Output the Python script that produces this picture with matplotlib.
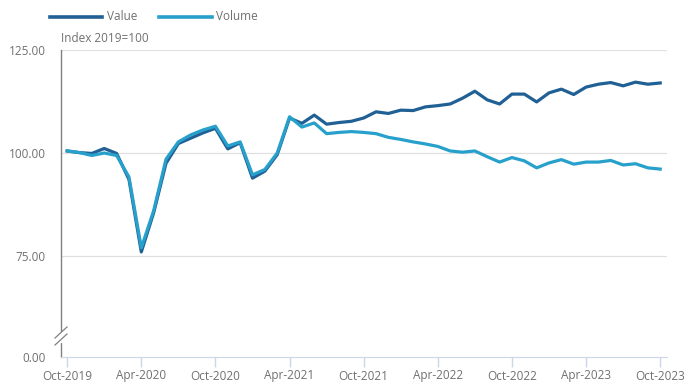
import matplotlib.pyplot as plt
from matplotlib.lines import Line2D

plt.rcParams['font.family'] = ['Open Sans', 'DejaVu Sans']

# monthly index, Oct-2019 .. Oct-2023 (2019=100)
value = [100.5, 100.1, 99.9, 101.1, 99.9, 93.6, 76.0, 85.5, 97.5,
         102.3, 103.6, 104.9, 106.0, 101.0, 102.5, 93.9, 95.6, 99.6,
         108.5, 107.2, 109.2, 107.0, 107.4, 107.7, 108.5, 110.0, 109.6,
         110.4, 110.3, 111.2, 111.5, 111.9, 113.3, 115.0, 112.9, 111.9,
         114.3, 114.3, 112.4, 114.6, 115.5, 114.2, 116.0, 116.7, 117.1,
         116.3, 117.2, 116.7, 117.0]
volume = [100.5, 100.1, 99.4, 100.0, 99.4, 94.2, 77.0, 86.0, 98.5,
          102.7, 104.4, 105.6, 106.5, 101.7, 102.7, 94.7, 96.0, 100.0,
          108.8, 106.3, 107.3, 104.7, 105.0, 105.2, 105.0, 104.7, 103.8,
          103.3, 102.7, 102.2, 101.6, 100.5, 100.2, 100.5, 99.1, 97.8,
          98.9, 98.1, 96.4, 97.6, 98.4, 97.3, 97.8, 97.8, 98.2,
          97.1, 97.4, 96.4, 96.1]
xlabels = ['Oct-2019', 'Apr-2020', 'Oct-2020', 'Apr-2021', 'Oct-2021',
           'Apr-2022', 'Oct-2022', 'Apr-2023', 'Oct-2023']
ytick_vals = [50.5, 75, 100, 125]
ytick_labels = ['0.00', '75.00', '100.00', '125.00']

dark = '#206095'
light = '#27a0cc'
txt = '#707070'

W, H = 690, 391
fig = plt.figure(figsize=(6.9, 3.91), dpi=100)
ax = fig.add_axes([61 / W, 34 / H, 606 / W, 307 / H])

x = range(len(value))
ax.plot(x, value, color=dark, lw=2.3, solid_joinstyle='round', zorder=3)
ax.plot(x, volume, color=light, lw=2.3, solid_joinstyle='round', zorder=4)

ax.set_xlim(-0.5, 48.55)
ax.set_ylim(50.5, 125)
for v in ytick_vals[1:]:
    ax.axhline(v, color='#e0e0e0', lw=0.9, zorder=1)

ax.set_xticks(range(0, 49, 6))
ax.set_xticklabels(xlabels)
ax.set_yticks(ytick_vals)
ax.set_yticklabels(ytick_labels)
ax.tick_params(axis='x', colors='#ccd6eb', length=7, width=1, labelcolor=txt,
               labelsize=8.5, pad=2)
ax.tick_params(axis='y', length=0, labelcolor=txt, labelsize=8.5, pad=11)

for s in ['top', 'right']:
    ax.spines[s].set_visible(False)
ax.spines['bottom'].set_color('#ccd6eb')
ax.spines['left'].set_color('#808080')
ax.spines['left'].set_linewidth(1)

# axis break marks
def fx(px):
    return px / W

def fy(py):
    return (H - py) / H

fig.add_artist(Line2D([fx(61), fx(61)], [fy(334), fy(341)], color='white', lw=3))
for off in (0, 7):
    fig.add_artist(Line2D([fx(55), fx(67)], [fy(345 - off), fy(334 - off)],
                          color='#808080', lw=0.9))

fig.text(fx(61), fy(42), 'Index 2019=100', color=txt, fontsize=8.5,
         ha='left', va='baseline')

# legend
fig.add_artist(Line2D([fx(50), fx(102)], [fy(17), fy(17)], color=dark, lw=2.6))
fig.text(fx(107), fy(17), 'Value', color=txt, fontsize=8.5, va='center')
fig.add_artist(Line2D([fx(159), fx(212)], [fy(17), fy(17)], color=light, lw=2.6))
fig.text(fx(216), fy(17), 'Volume', color=txt, fontsize=8.5, va='center')

fig.savefig('out.png', dpi=100)
